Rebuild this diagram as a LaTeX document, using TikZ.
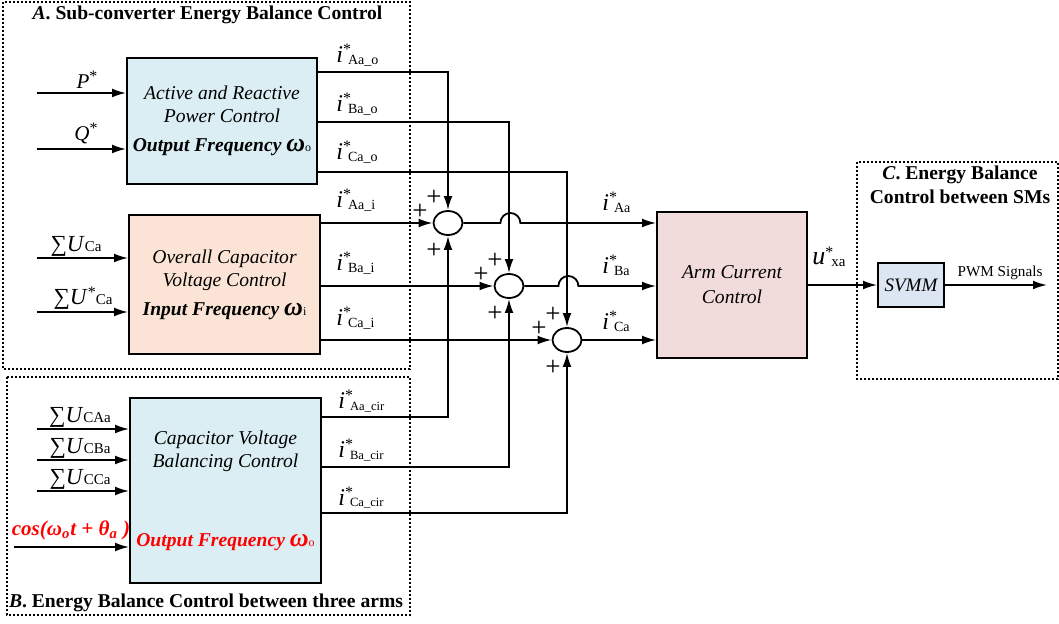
\documentclass[tikz,border=0pt]{standalone}
\usepackage{fontspec}
\setmainfont{Liberation Serif}
\usetikzlibrary{arrows.meta,shapes.geometric}

\definecolor{azul}{HTML}{DAEEF3}
\definecolor{melon}{HTML}{FBE4D5}
\definecolor{rosa}{HTML}{F2DCDB}
\definecolor{gris}{HTML}{DCE6F2}

% referencias de corriente y tensiones
\newcommand{\iref}[2][7]{{\fontsize{12}{12}\selectfont\itshape i}\raisebox{4pt}{\fontsize{8}{8}\selectfont *}\kern-1.5pt\raisebox{-1pt}{\fontsize{#1}{#1}\selectfont #2}}
\newcommand{\sumU}[2]{{\fontsize{11.5}{11.5}\selectfont ∑\textit{U}}#1{\fontsize{7.5}{7.5}\selectfont #2}}
\newcommand{\estr}{\raisebox{3.5pt}{\fontsize{8}{8}\selectfont *}}
\newcommand{\wo}[1]{{\fontsize{13}{13}\selectfont ω}{\fontsize{6}{6}\selectfont\upshape\mdseries #1}}

\begin{document}
\begin{tikzpicture}[x=0.5pt,y=-0.5pt,
	bloque/.style={draw,line width=0.9pt,align=center,inner sep=0pt,font=\fontsize{9.8}{11.5}\selectfont\itshape},
	texto/.style={align=center,inner sep=0pt,font=\fontsize{9.8}{11.5}\selectfont\itshape},
	suma/.style={draw,ellipse,line width=0.9pt,minimum width=14.5pt,minimum height=12pt,inner sep=0pt},
	flecha/.style={line width=0.9pt,-{Latex[length=7pt,width=4.4pt]}},
	linea/.style={line width=0.9pt},
	marco/.style={line width=0.7pt,dash pattern=on 1pt off 1pt},
	titulo/.style={anchor=base,inner sep=0pt,font=\fontsize{9.8}{11.8}\selectfont\bfseries},
	etiq/.style={anchor=base west,inner sep=0pt},
	entr/.style={anchor=base,inner sep=0pt,font=\fontsize{10.5}{10.5}\selectfont},
	mas/.style={inner sep=0pt,font=\fontsize{13.5}{13.5}\selectfont}]

   \useasboundingbox (0,0) rectangle (1059,624);

   %marcos
   \draw[marco] (3,2) rectangle (410,369);
   \draw[marco] (7,377) rectangle (410,615);
   \draw[marco] (857,162) rectangle (1058,379);
   \node[titulo] (tA) at (207.5,20) {\textit{A}. Sub-converter Energy Balance Control};
   \node[titulo] (tB) at (206,607) {\textit{B}. Energy Balance Control between three arms};
   \node[titulo] (tC1) at (960,180) {\textit{C}. Energy Balance};
   \node[titulo] (tC2) at (960,204) {Control between SMs};

   %bloques
   \node[bloque,fill=azul,minimum width=95pt,minimum height=63pt] (pq) at (222,121)
      {Active and Reactive\\Power Control\\[3pt]{\bfseries Output Frequency \wo{o}}};
   \node[bloque,fill=melon,minimum width=95.5pt,minimum height=69.5pt] (ovc) at (224.5,284.5)
      {Overall Capacitor\\Voltage Control\\[3pt]{\bfseries Input Frequency \wo{i}}};
   \node[bloque,fill=azul,minimum width=95.5pt,minimum height=92.5pt] (cvb) at (225.5,490.5) {};
   \node[texto] (cvbt) at (225.5,451.5) {Capacitor Voltage\\Balancing Control};
   \node[texto,text=red] (cvbw) at (225.5,542) {\bfseries Output Frequency \wo{o}};
   \node[bloque,fill=rosa,minimum width=75pt,minimum height=73pt,font=\fontsize{9.8}{12.5}\selectfont\itshape] (arm) at (732,285)
      {Arm Current\\Control};
   \node[bloque,fill=gris,minimum width=33pt,minimum height=22pt,font=\fontsize{9.5}{9.5}\selectfont\itshape] (svmm) at (911,285) {SVMM};

   %sumadores
   \node[suma] (sA) at (448,223) {};
   \node[suma] (sB) at (509,286) {};
   \node[suma] (sC) at (567,340) {};
   \foreach \s in {sA,sB,sC}{
      \node[mas] (\s-a) at ([shift={(-14,-25)}]\s) {+};
      \node[mas] (\s-b) at ([shift={(-28,-11)}]\s) {+};
      \node[mas] (\s-c) at ([shift={(-14,28)}]\s) {+};
   }

   %entradas
   \coordinate (inP) at (37,93);
   \coordinate (inQ) at (37,149);
   \coordinate (inU) at (37,258);
   \coordinate (inUr) at (37,312);
   \coordinate (inUA) at (37,429);
   \coordinate (inUB) at (37,460);
   \coordinate (inUC) at (37,491);
   \coordinate (inCos) at (14,547);
   \draw[flecha] (inP) -- (inP -| pq.west);
   \draw[flecha] (inQ) -- (inQ -| pq.west);
   \draw[flecha] (inU) -- (inU -| ovc.west);
   \draw[flecha] (inUr) -- (inUr -| ovc.west);
   \draw[flecha] (inUA) -- (inUA -| cvb.west);
   \draw[flecha] (inUB) -- (inUB -| cvb.west);
   \draw[flecha] (inUC) -- (inUC -| cvb.west);
   \draw[flecha] (inCos) -- (inCos -| cvb.west);
   \node[entr] (lP) at (87,89) {\textit{P}\estr};
   \node[entr] (lQ) at (86,141) {\textit{Q}\estr};
   \node[entr] (lU) at (76,252) {\sumU{}{Ca}};
   \node[entr] (lUr) at (83,305) {\sumU{\estr}{Ca}};
   \node[entr] (lUA) at (80,423) {\sumU{}{CAa}};
   \node[entr] (lUB) at (80,454) {\sumU{}{CBa}};
   \node[entr] (lUC) at (80,485) {\sumU{}{CCa}};
   \node[entr,text=red,font=\fontsize{10.5}{10.5}\selectfont\bfseries\itshape] (lCos) at (71,535)
      {cos(ω\textsubscript{o}t + θ\textsubscript{a} )};

   %salidas de los bloques
   \coordinate (oAo) at (317,72);
   \coordinate (oBo) at (317,122);
   \coordinate (oCo) at (317,172);
   \coordinate (oAi) at (320,223);
   \coordinate (oBi) at (320,286);
   \coordinate (oCi) at (320,340);
   \coordinate (oAc) at (321,417);
   \coordinate (oBc) at (321,467);
   \coordinate (oCc) at (321,513);
   \draw[flecha] (oAo) -| (sA.north);
   \draw[flecha] (oBo) -| (sB.north);
   \draw[flecha] (oCo) -| (sC.north);
   \draw[flecha] (oAi) -- (sA.west);
   \draw[flecha] (oBi) -- (sB.west);
   \draw[flecha] (oCi) -- (sC.west);
   \draw[flecha] (oAc) -| (sA.south);
   \draw[flecha] (oBc) -| (sB.south);
   \draw[flecha] (oCc) -| (sC.south);
   \node[etiq] (lAo) at (336,63) {\iref{Aa\_o}};
   \node[etiq] (lBo) at (336,112) {\iref{Ba\_o}};
   \node[etiq] (lCo) at (336,160) {\iref{Ca\_o}};
   \node[etiq] (lAi) at (336,208) {\iref{Aa\_i}};
   \node[etiq] (lBi) at (336,271) {\iref{Ba\_i}};
   \node[etiq] (lCi) at (336,326) {\iref{Ca\_i}};
   \node[etiq] (lAc) at (338,409) {\iref[6.3]{Aa\_cir}};
   \node[etiq] (lBc) at (338,458) {\iref[6.3]{Ba\_cir}};
   \node[etiq] (lCc) at (338,505) {\iref[6.3]{Ca\_cir}};

   %hacia el control de corriente
   \draw[flecha] (sA.east) -- ++(37,0) arc[start angle=180,end angle=0,radius=5pt] -- (sA -| arm.west);
   \draw[flecha] (sB.east) -- ++(34,0) arc[start angle=180,end angle=0,radius=5pt] -- (sB -| arm.west);
   \draw[flecha] (sC.east) -- (sC -| arm.west);
   \node[etiq] (lA) at (602,211) {\iref{Aa}};
   \node[etiq] (lB) at (602,274) {\iref{Ba}};
   \node[etiq] (lC) at (602,330) {\iref{Ca}};

   %modulacion
   \coordinate (pwm) at (1047,285);
   \draw[flecha] (arm.east) -- (svmm.west);
   \draw[flecha] (svmm.east) -- (pwm);
   \node[etiq] (lu) at (812,265) {{\fontsize{13}{13}\selectfont\itshape u}\estr\kern-1pt\raisebox{-1pt}{\fontsize{7.5}{7.5}\selectfont xa}};
   \node[anchor=base,inner sep=0pt,font=\fontsize{7.6}{7.6}\selectfont] (lpwm) at (1000,277) {PWM Signals};
\end{tikzpicture}
\end{document}
